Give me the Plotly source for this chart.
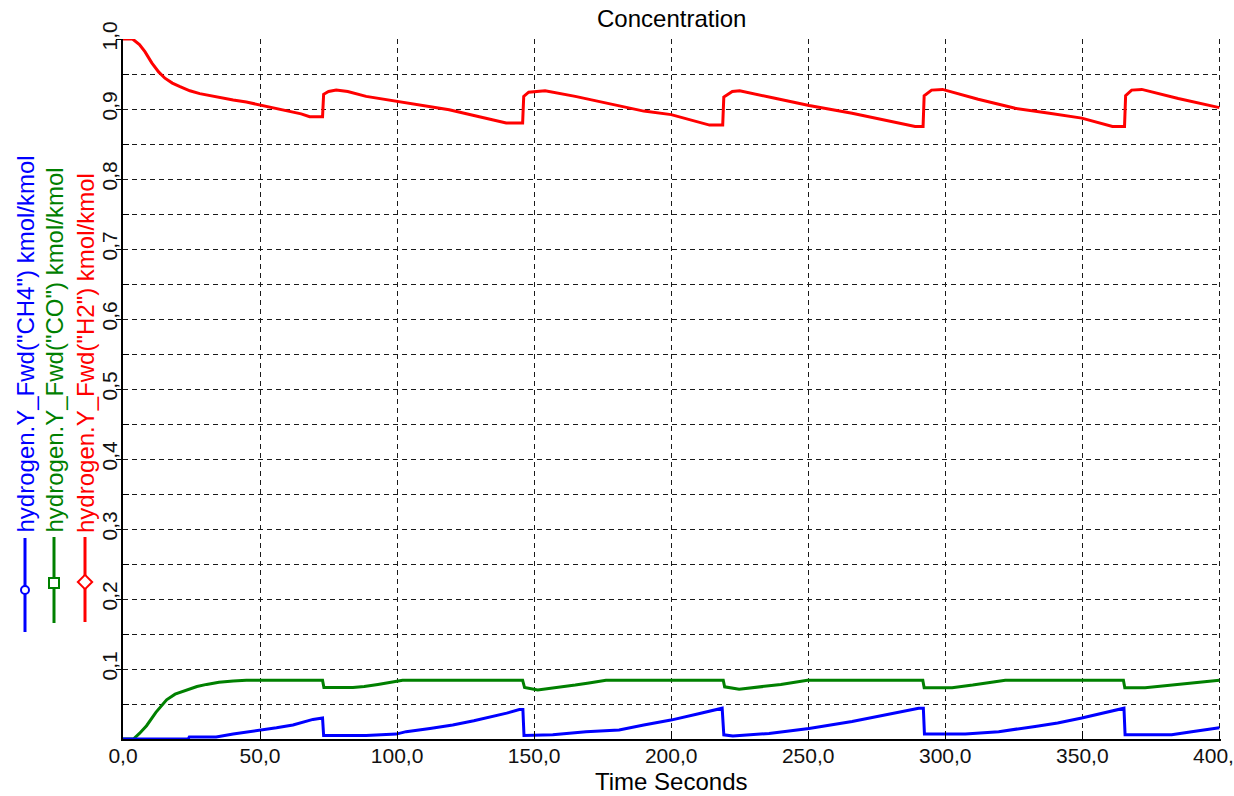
import plotly.graph_objects as go

# ---- Data: mole fractions at the forward end, read per time point (s) ----
h2_t = [0, 3.5, 6, 8, 10.5, 13, 15.3, 18, 20.8, 24.4, 28, 31.7, 36, 40.2, 45, 50, 55, 60, 65,
        68.1, 72.8, 73.2, 75, 77.8, 82, 88.7, 95, 100, 110, 119, 130, 139.8, 145.8, 146.2, 148,
        152, 154, 165, 180, 190, 200, 210, 214, 218.8, 219.2, 222.3, 225, 237, 250.3, 266, 280,
        289, 291.9, 292.3, 295, 299, 312, 325.5, 338, 349.8, 361, 365.4, 365.8, 368, 371.7,
        385, 400]
h2_y = [1.000, 1.000, 0.992, 0.982, 0.966, 0.953, 0.944, 0.937, 0.932, 0.926, 0.922, 0.919,
        0.916, 0.913, 0.910, 0.906, 0.902, 0.897, 0.893, 0.889, 0.889, 0.921, 0.925, 0.927,
        0.925, 0.918, 0.914, 0.910, 0.904, 0.899, 0.889, 0.880, 0.880, 0.918, 0.924, 0.926,
        0.926, 0.918, 0.905, 0.897, 0.892, 0.881, 0.877, 0.877, 0.917, 0.925, 0.926, 0.916,
        0.905, 0.894, 0.882, 0.875, 0.875, 0.919, 0.927, 0.928, 0.914, 0.901, 0.894, 0.887,
        0.875, 0.875, 0.919, 0.927, 0.928, 0.915, 0.902]

co_t = [0, 3.8, 6, 8.6, 12, 15.9, 19, 23.2, 27, 30.5, 35, 40.2, 45, 72.8, 73.3, 83.9, 88, 93,
        98, 102, 145.8, 146.5, 151.3, 158, 165, 170, 176.2, 219, 219.5, 224.8, 232, 240, 249.7,
        291.8, 292.3, 302.5, 310, 316, 321.9, 365, 365.5, 372.9, 380, 390, 400]
co_y = [0, 0, 0.008, 0.019, 0.038, 0.056, 0.064, 0.070, 0.075, 0.078, 0.081, 0.083, 0.084,
        0.084, 0.0735, 0.0735, 0.075, 0.078, 0.081, 0.084, 0.084, 0.0735, 0.070, 0.073, 0.077,
        0.080, 0.084, 0.084, 0.0745, 0.071, 0.074, 0.078, 0.084, 0.084, 0.0733, 0.0733, 0.077,
        0.080, 0.084, 0.084, 0.0733, 0.0733, 0.076, 0.080, 0.084]

ch4_t = [0, 23.8, 24.2, 34, 40.2, 50, 56, 62, 66, 69.3, 72.8, 73.2, 80, 88.7, 99.7, 103.3, 112,
         120.3, 128, 134.9, 140, 144.6, 145.9, 146.3, 156.8, 168.9, 181, 190, 199.9, 210, 218.6,
         219.2, 222.5, 235.7, 250.3, 266, 278.2, 290.3, 292, 292.4, 307.3, 319.5, 332.8, 341,
         349.8, 358, 365.2, 365.6, 382.6, 389.9, 400]
ch4_y = [0, 0, 0.003, 0.003, 0.007, 0.012, 0.016, 0.020, 0.025, 0.028, 0.030, 0.005, 0.005,
         0.005, 0.007, 0.0105, 0.015, 0.020, 0.026, 0.032, 0.037, 0.042, 0.042, 0.005, 0.006,
         0.0105, 0.013, 0.020, 0.027, 0.036, 0.044, 0.006, 0.0043, 0.008, 0.015, 0.025, 0.034,
         0.044, 0.044, 0.007, 0.007, 0.0105, 0.018, 0.023, 0.030, 0.038, 0.044, 0.006, 0.006,
         0.0105, 0.016]

series_names = ['hydrogen.Y_Fwd("CH4") kmol/kmol',
                'hydrogen.Y_Fwd("CO") kmol/kmol',
                'hydrogen.Y_Fwd("H2") kmol/kmol']
series_colors = ["#0000FF", "#008000", "#FF0000"]
series_symbols = ["circle", "square", "diamond"]

x_ticks = [0, 50, 100, 150, 200, 250, 300, 350, 400]
x_tick_text = ["0,0", "50,0", "100,0", "150,0", "200,0", "250,0", "300,0", "350,0", "400,0"]
y_ticks = [0.1, 0.2, 0.3, 0.4, 0.5, 0.6, 0.7, 0.8, 0.9, 1.0]
y_tick_text = ["0,1", "0,2", "0,3", "0,4", "0,5", "0,6", "0,7", "0,8", "0,9", "1,0"]
y_minor = [0.05, 0.15, 0.25, 0.35, 0.45, 0.55, 0.65, 0.75, 0.85, 0.95]

W, H = 1234, 796
FONT = "Liberation Sans, Arial, sans-serif"
GRID = "#1a1a1a"

# plot area in pixels
PL, PR, PT, PB = 123, 1221, 39, 739

fig = go.Figure()

for t, y, c in [(h2_t, h2_y, series_colors[2]), (co_t, co_y, series_colors[1]),
                (ch4_t, ch4_y, series_colors[0])]:
    fig.add_trace(go.Scatter(x=t, y=y, mode="lines", line=dict(color=c, width=3),
                             showlegend=False, hoverinfo="skip"))

# vertical legend in the left margin, drawn on its own pixel-based axes
LEG_W = 120
leg_x = [25, 54, 85]
leg_line = [(538, 632), (537, 623), (537, 622)]
leg_mark = [590, 583, 582]
leg_size = [8, 10, 11]
for i in range(3):
    fig.add_trace(go.Scatter(x=[leg_x[i], leg_x[i]], y=list(leg_line[i]), mode="lines",
                             line=dict(color=series_colors[i], width=3),
                             xaxis="x2", yaxis="y2", showlegend=False, hoverinfo="skip"))
    fig.add_trace(go.Scatter(x=[leg_x[i]], y=[leg_mark[i]], mode="markers",
                             marker=dict(symbol=series_symbols[i], size=leg_size[i],
                                         color="white",
                                         line=dict(color=series_colors[i], width=2)),
                             xaxis="x2", yaxis="y2", showlegend=False, hoverinfo="skip"))
    fig.add_annotation(x=leg_x[i], y=535, xref="x2", yref="y2", text=series_names[i],
                       textangle=-90, showarrow=False, xanchor="center", yanchor="bottom",
                       font=dict(family=FONT, size=24, color=series_colors[i]))

fig.add_annotation(x=(PL + PR) / 2 / W, y=1 - 18 / H, xref="paper", yref="paper",
                   text="Concentration", showarrow=False, xanchor="center", yanchor="middle",
                   font=dict(family=FONT, size=24, color="black"))
fig.add_annotation(x=(PL + PR) / 2 / W, y=1 - 781 / H, xref="paper", yref="paper",
                   text="Time Seconds", showarrow=False, xanchor="center", yanchor="middle",
                   font=dict(family=FONT, size=24, color="black"))

fig.update_layout(
    template="none",
    width=W, height=H,
    margin=dict(l=0, r=0, t=0, b=0, pad=0),
    paper_bgcolor="white", plot_bgcolor="white",
    font=dict(family=FONT, size=21, color="#111111"),
    xaxis=dict(domain=[PL / W, PR / W], range=[0, 400.6], automargin=False,
               tickmode="array", tickvals=x_ticks, ticktext=x_tick_text,
               ticks="inside", ticklen=8, tickcolor="black", tickwidth=1,
               ticklabelstandoff=-3, ticklabeloverflow="allow",
               showgrid=True, gridcolor=GRID, griddash="5px,4px", gridwidth=1,
               showline=True, linecolor="black", linewidth=2, zeroline=False,
               tickfont=dict(family=FONT, size=21, color="#111111")),
    yaxis=dict(domain=[1 - PB / H, 1 - PT / H], range=[0, 1], automargin=False,
               tickmode="array", tickvals=y_ticks, ticktext=y_tick_text, tickangle=-90,
               ticks="outside", ticklen=5, tickcolor="black", tickwidth=1,
               ticklabelstandoff=-9, ticklabeloverflow="allow",
               showgrid=True, gridcolor=GRID, griddash="5px,4px", gridwidth=1,
               showline=True, linecolor="black", linewidth=2, zeroline=False,
               minor=dict(tickmode="array", tickvals=y_minor, ticks="inside", ticklen=6,
                          tickcolor="black", showgrid=True, gridcolor=GRID,
                          griddash="5px,4px", gridwidth=1),
               tickfont=dict(family=FONT, size=21, color="#111111")),
    xaxis2=dict(domain=[0, LEG_W / W], range=[0, LEG_W], visible=False, fixedrange=True),
    yaxis2=dict(domain=[0, 1], range=[H, 0], visible=False, fixedrange=True),
)

fig.write_html("out.html")
